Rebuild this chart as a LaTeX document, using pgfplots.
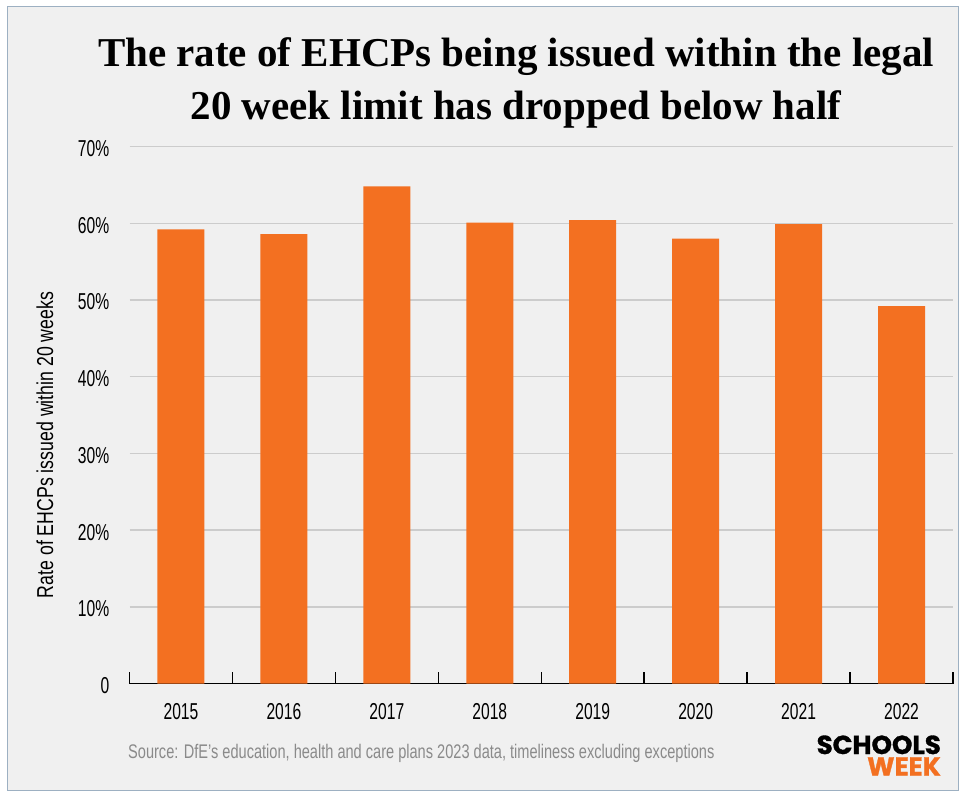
\documentclass[border=0pt]{standalone}
\usepackage{pgfplots}
\pgfplotsset{compat=1.18}
\usepackage{fontspec}
\setmainfont{Liberation Sans}[FakeStretch=0.74]
\newfontfamily\tickfont{Liberation Sans}[FakeStretch=0.68]
\newfontfamily\labfont{Liberation Sans}[FakeStretch=0.77]
\newfontfamily\titlefont{Liberation Serif}
\newfontfamily\logofont{Poppins}[BoldFeatures={FakeBold=1.2}]
\definecolor{bg}{HTML}{F0F0F0}
\definecolor{barc}{HTML}{F37021}
\definecolor{gridc}{HTML}{CCCCCC}
\definecolor{srcc}{HTML}{8A8A8A}
\definecolor{framec}{HTML}{9DB0C2}
\begin{document}
\begin{tikzpicture}[x=1pt,y=1pt]
\fill[white] (0,0) rectangle (965,796);
\fill[bg] (7,6) rectangle (958,789);
\draw[framec, line width=1pt] (7,6) rectangle (958,789);
\begin{axis}[
  at={(129.5pt,112.4pt)}, anchor=south west,
  width=823.5pt, height=537pt, scale only axis,
  xmin=-0.5, xmax=7.5, ymin=0, ymax=70,
  axis lines=left,
  x axis line style={-, black, line width=1.5pt},
  y axis line style={draw=none},
  ymajorgrids, grid style={gridc, line width=1.5pt},
  ytick={0,10,...,70},
  yticklabels={0,10\%,20\%,30\%,40\%,50\%,60\%,70\%},
  ytick style={draw=none},
  xtick={0,...,7},
  xticklabels={2015,2016,2017,2018,2019,2020,2021,2022},
  major x tick style={draw=none},
  minor xtick={-0.5,0.5,...,7.5},
  minor tick length=12pt, tick align=inside,
  minor x tick style={black, line width=1.5pt},
  yticklabel style={anchor=east, inner sep=0pt, xshift=-20pt, yshift=-2pt, font=\tickfont\fontsize{23}{23}\selectfont},
  xticklabel style={anchor=north, inner sep=0pt, yshift=-20pt, font=\tickfont\fontsize{23}{23}\selectfont},
]
\addplot[ybar, bar width=47pt, fill=barc, draw=none] coordinates {
  (0,59.2) (1,58.6) (2,64.8) (3,60.1) (4,60.4) (5,58.0) (6,59.9) (7,49.2)};
\end{axis}
\node[anchor=base, inner sep=0pt, font=\titlefont\bfseries\fontsize{41}{41}\selectfont] at (516,729) {The rate of EHCPs being issued within the legal};
\node[anchor=base, inner sep=0pt, font=\titlefont\bfseries\fontsize{41}{41}\selectfont] at (516,676) {20 week limit has dropped below half};
\node[rotate=90, inner sep=0pt, font=\labfont\fontsize{23}{23}\selectfont] at (45,351) {Rate of EHCPs issued within 20 weeks};
\node[anchor=base west, inner sep=0pt, text=srcc, font=\fontsize{19.7}{19.7}\selectfont] at (128,38) {Source: DfE's education, health and care plans 2023 data, timeliness excluding exceptions};
\node[anchor=base east, inner sep=0pt, text height=17pt, text depth=0pt, font=\logofont\bfseries\fontsize{26}{26}\selectfont] at (941,42) {SCHOOLS};
\node[anchor=base east, inner sep=0pt, text height=17pt, text depth=0pt, text=barc, font=\logofont\bfseries\fontsize{26}{26}\selectfont] at (941,20.5) {WEEK};
\end{tikzpicture}
\end{document}
